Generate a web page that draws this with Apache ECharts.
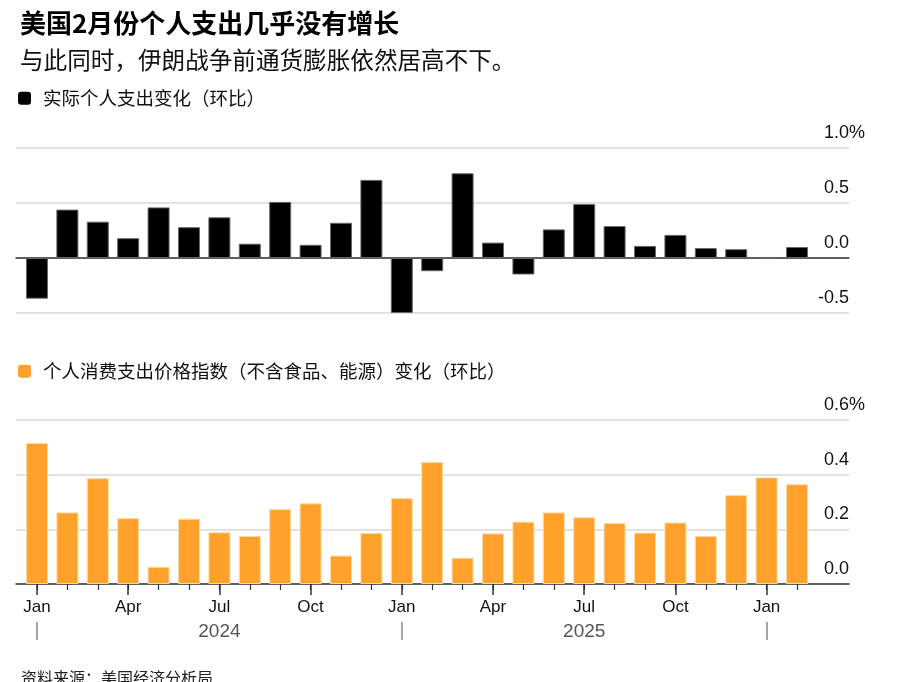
<!DOCTYPE html>
<html>
<head>
<meta charset="utf-8">
<script src="https://cdn.jsdelivr.net/npm/echarts@6/dist/echarts.min.js"></script>
<style>
html,body{margin:0;padding:0;background:#fff;}
#c{width:924px;height:682px;}
</style>
</head>
<body>
<div id="c"></div>
<script>
// ---- data ----
const months = ['Jan','Feb','Mar','Apr','May','Jun','Jul','Aug','Sep','Oct','Nov','Dec',
                'Jan','Feb','Mar','Apr','May','Jun','Jul','Aug','Sep','Oct','Nov','Dec',
                'Jan','Feb'];
const years = ['2024','2025'];
const realSpending = [-0.37,0.44,0.33,0.18,0.46,0.28,0.37,0.13,0.51,0.12,0.32,0.71,
                      -0.50,-0.12,0.77,0.14,-0.15,0.26,0.49,0.29,0.11,0.21,0.09,0.08,
                      0.00,0.10];
const corePce = [0.516,0.262,0.387,0.241,0.063,0.239,0.189,0.176,0.274,0.295,0.104,0.187,
                 0.314,0.446,0.096,0.185,0.228,0.262,0.244,0.223,0.188,0.225,0.176,0.325,
                 0.390,0.365];
const topTicks = [-0.5,0.0,0.5,1.0];
const bottomTicks = [0.0,0.2,0.4,0.6];
const name1 = '实际个人支出变化（环比）';
const name2 = '个人消费支出价格指数（不含食品、能源）变化（环比）';

const NUM = 'Liberation Sans, Arial, Noto Sans CJK SC, sans-serif';
const CJK = 'Noto Sans CJK SC, sans-serif';
const idx = months.map((m,i)=>i);
const quarterIdx = idx.filter(i=>i%3===0);
const janIdx = idx.filter(i=>i%12===0);
const yearMid = years.map((y,k)=>k*12+6);
const xMin = -0.69, xMax = 26.71;

function yLabel(ticks){
  const top = ticks[ticks.length-1];
  return {
    inside:true, margin:-16, color:'#111', fontSize:18, fontFamily:NUM,
    verticalAlign:'bottom', padding:[0,0,6,0],
    formatter:(v)=> Math.abs(v-top)<1e-9 ? v.toFixed(1)+'{p|%}' : v.toFixed(1)+'{h|%}',
    rich:{
      p:{fontSize:18,fontFamily:NUM,color:'#111'},
      h:{fontSize:18,fontFamily:NUM,color:'rgba(0,0,0,0)'}
    }
  };
}
const splitLine = {show:true,lineStyle:{color:'#d9d9d9',width:1.5}};

const option = {
  animation:false,
  title:[
    {text:'美国2月份个人支出几乎没有增长',left:15,top:5,
     textStyle:{fontSize:26,fontWeight:'bold',color:'#000',fontFamily:CJK,lineHeight:26}},
    {text:'与此同时，伊朗战争前通货膨胀依然居高不下。',left:15,top:43,
     textStyle:{fontSize:23.6,fontWeight:'normal',color:'#111',fontFamily:CJK,lineHeight:24}},
    {text:'资料来源：美国经济分析局',left:16,top:665,
     textStyle:{fontSize:16,fontWeight:'normal',color:'#222',fontFamily:CJK,lineHeight:16}}
  ],
  legend:[
    {data:[name1],left:18,top:89,padding:0,icon:'roundRect',itemWidth:13,itemHeight:13,
     itemStyle:{borderWidth:0},
     textStyle:{fontSize:18.5,color:'#111',fontFamily:CJK,padding:[0,0,0,7]},selectedMode:false},
    {data:[name2],left:18,top:362,padding:0,icon:'roundRect',itemWidth:13,itemHeight:13,
     itemStyle:{borderWidth:0},
     textStyle:{fontSize:18.5,color:'#111',fontFamily:CJK,padding:[0,0,0,7]},selectedMode:false}
  ],
  grid:[
    {left:16,width:833,top:148,height:165,containLabel:false},
    {left:16,width:833,top:420,height:164,containLabel:false}
  ],
  xAxis:[
    {gridIndex:0,type:'value',min:xMin,max:xMax,
     axisLine:{show:true,onZero:true,lineStyle:{color:'#333',width:1.5}},
     axisTick:{show:false},axisLabel:{show:false},splitLine:{show:false}},
    {gridIndex:1,type:'value',min:xMin,max:xMax,position:'bottom',offset:0,
     axisLine:{show:true,onZero:false,lineStyle:{color:'#333',width:1.5}},
     axisTick:{show:true,customValues:idx,length:6,lineStyle:{color:'#333',width:1.2}},
     axisLabel:{show:false},splitLine:{show:false}},
    {gridIndex:1,type:'value',min:xMin,max:xMax,position:'bottom',offset:0,
     axisLine:{show:false,onZero:false},
     axisTick:{show:true,customValues:quarterIdx,length:11,lineStyle:{color:'#333',width:1.5}},
     axisLabel:{show:true,customValues:quarterIdx,margin:15,fontSize:17,color:'#111',fontFamily:NUM,
       formatter:(v)=>months[Math.round(v)]},
     splitLine:{show:false}},
    {gridIndex:1,type:'value',min:xMin,max:xMax,position:'bottom',offset:38,
     axisLine:{show:false,onZero:false},
     axisTick:{show:true,customValues:janIdx,length:18,lineStyle:{color:'#888',width:1.5}},
     axisLabel:{show:true,customValues:yearMid,margin:0,fontSize:19,color:'#555',fontFamily:NUM,
       formatter:(v)=>years[Math.round((v-6)/12)]},
     splitLine:{show:false}}
  ],
  yAxis:[
    {gridIndex:0,type:'value',position:'right',min:topTicks[0],max:topTicks[topTicks.length-1],interval:0.5,
     axisLine:{show:false},axisTick:{show:false},axisLabel:yLabel(topTicks),splitLine:splitLine},
    {gridIndex:1,type:'value',position:'right',min:bottomTicks[0],max:bottomTicks[bottomTicks.length-1],interval:0.2,
     axisLine:{show:false},axisTick:{show:false},axisLabel:yLabel(bottomTicks),splitLine:splitLine}
  ],
  series:[
    {name:name1,type:'bar',xAxisIndex:0,yAxisIndex:0,barWidth:22,
     itemStyle:{color:'#000',borderColor:'#666',borderWidth:1},
     data:realSpending.map((v,i)=>[i,v])},
    {name:name2,type:'bar',xAxisIndex:1,yAxisIndex:1,barWidth:22,
     itemStyle:{color:'#FFA12B',borderColor:'#FFD9A3',borderWidth:1},
     data:corePce.map((v,i)=>[i,v])}
  ]
};
const chart = echarts.init(document.getElementById('c'),null,{renderer:'canvas'});
chart.setOption(option);
</script>
</body>
</html>
